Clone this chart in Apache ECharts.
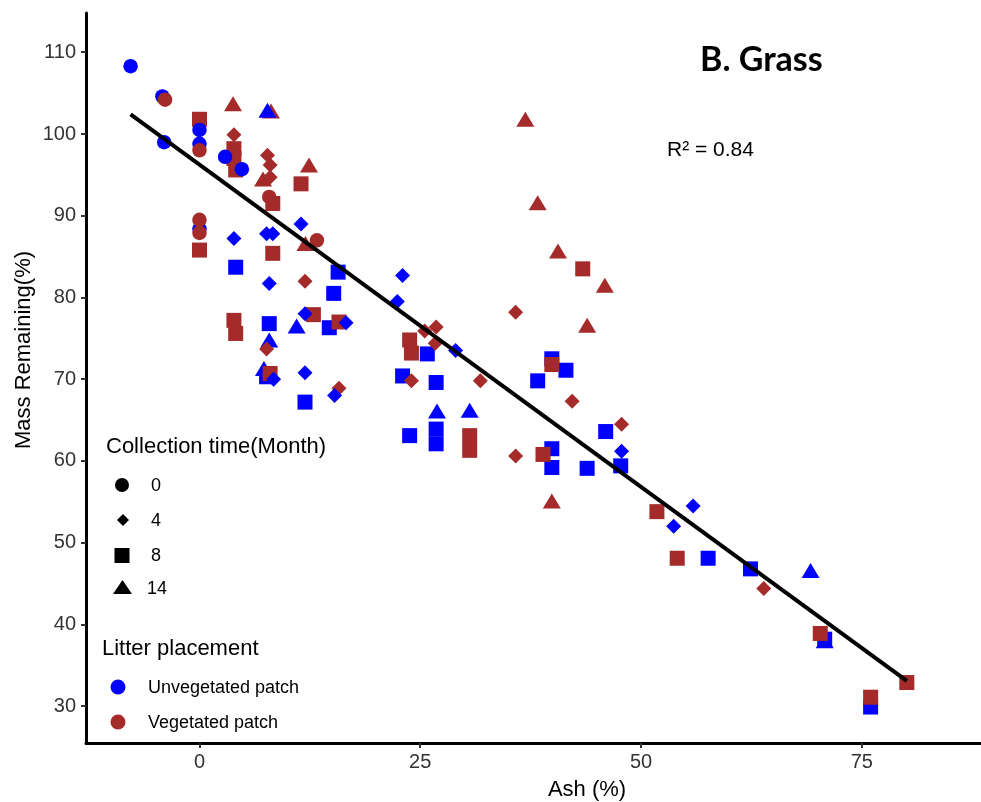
<!DOCTYPE html>
<html>
<head>
<meta charset="utf-8">
<script src="https://cdn.jsdelivr.net/npm/echarts@6/dist/echarts.min.js"></script>
<style>
  html, body { margin: 0; padding: 0; background: #ffffff; }
  #chart { width: 981px; height: 802px; }
</style>
</head>
<body>
<div id="chart"></div>
<script>
// ---- Data: [Ash (%), Mass Remaining (%)] ----
// Unvegetated patch (blue)
const unveg_m0 = [[-7.8,108.3],[-4.2,104.6],[-4.0,99.0],[0,100.5],[0,98.8],[2.9,97.2],[4.8,95.7],[0,88.4]];
const unveg_m4 = [[3.9,87.2],[7.6,87.8],[8.3,87.8],[11.5,89.0],[7.9,81.7],[11.95,78.0],[16.6,76.9],[8.4,70.0],[11.95,70.8],[15.3,68.0],[23.0,82.7],[22.4,79.5],[29.0,73.5],[47.8,61.2],[55.9,54.5],[53.7,52.0]];
const unveg_m8 = [[4.1,83.7],[15.7,83.1],[15.2,80.5],[7.9,76.8],[14.7,76.3],[7.6,70.3],[11.95,67.2],[25.8,73.1],[23.0,70.4],[26.8,69.6],[23.8,63.1],[26.8,63.9],[26.8,62.1],[39.9,61.5],[39.9,59.2],[43.9,59.1],[47.7,59.4],[46.0,63.6],[38.3,69.8],[41.5,71.1],[39.9,72.5],[57.6,48.1],[62.4,46.8],[70.8,38.2],[76.0,29.9]];
const unveg_m14 = [[7.7,102.9],[7.3,71.3],[7.9,74.8],[11.0,76.5],[26.9,66.1],[30.6,66.2],[69.2,46.6],[70.8,38.0]];
// Vegetated patch (brown)
const veg_m0 = [[-3.9,104.2],[0,98.0],[0,89.5],[0,87.9],[7.9,92.3],[13.3,87.0]];
const veg_m4 = [[3.9,99.9],[7.7,97.4],[8.0,96.2],[8.0,94.7],[11.95,82.0],[7.6,73.7],[15.8,68.9],[25.5,75.9],[26.8,76.4],[26.7,74.4],[24.0,69.8],[31.8,69.8],[35.8,60.6],[35.8,78.2],[42.2,67.3],[47.8,64.5],[63.9,44.4]];
const veg_m8 = [[0,101.8],[3.9,98.2],[3.9,97.0],[4.1,95.6],[8.3,91.5],[11.5,93.9],[0,85.8],[8.3,85.4],[3.9,77.2],[4.1,75.6],[12.9,77.9],[15.8,77.0],[8.0,70.7],[23.8,74.8],[24.0,73.2],[30.6,63.1],[30.6,61.3],[38.9,60.8],[39.9,71.8],[43.4,83.5],[51.8,53.8],[54.1,48.1],[70.3,38.9],[76.0,31.1],[80.1,32.9]];
const veg_m14 = [[3.8,103.7],[8.1,102.8],[7.2,94.5],[12.4,96.2],[12.0,86.6],[36.9,101.8],[38.3,91.6],[40.6,85.7],[45.9,81.5],[43.9,76.6],[39.9,55.1]];
// Linear fit endpoints
const fitLine = [[-7.8,102.4],[80.1,33.1]];
// Tick labels
const xTicks = [0, 25, 50, 75];
const yTicks = [30, 40, 50, 60, 70, 80, 90, 100, 110];

const BLUE = '#0000FF';
const BROWN = '#A52A2A';
const FONT = '"Liberation Sans", Arial, sans-serif';

const sym = {
  m0: { symbol: 'circle', size: 14.5 },
  m4: { symbol: 'diamond', size: [15, 15] },
  m8: { symbol: 'rect', size: 15 },
  m14: { symbol: 'triangle', size: [18, 15] }
};
function sc(name, data, s, color) {
  return {
    type: 'scatter', name: name, data: data,
    symbol: s.symbol, symbolSize: s.size,
    itemStyle: { color: color, opacity: 1 },
    emphasis: { disabled: true },
    silent: true
  };
}

const chart = echarts.init(document.getElementById('chart'), null, { renderer: 'canvas' });

const txt = (x, y, text, size, opts) => Object.assign({
  type: 'text', x: x, y: y,
  style: Object.assign({ text: text, font: size + 'px ' + FONT, fill: '#000', textAlign: 'left', textVerticalAlign: 'middle' }, (opts && opts.style) || {})
}, (opts && opts.el) || {});

const option = {
  backgroundColor: '#ffffff',
  animation: false,
  grid: { left: 86, top: 13, width: 895, height: 730, outerBoundsMode: 'none', containLabel: false },
  xAxis: {
    type: 'value', min: -12.85, max: 88.5,
    axisLine: { show: true, onZero: false, lineStyle: { color: '#000', width: 3 } },
    axisTick: { show: true, length: 5, customValues: xTicks, lineStyle: { color: '#333', width: 2 } },
    axisLabel: { show: true, customValues: xTicks, margin: 9, fontSize: 20, color: '#333', fontFamily: FONT },
    splitLine: { show: false }
  },
  yAxis: {
    type: 'value', min: 25.5, max: 114.8,
    axisLine: { show: true, onZero: false, lineStyle: { color: '#000', width: 3 } },
    axisTick: { show: true, length: 5, customValues: yTicks, lineStyle: { color: '#333', width: 2 } },
    axisLabel: { show: true, customValues: yTicks, margin: 10, fontSize: 20, color: '#333', fontFamily: FONT },
    splitLine: { show: false }
  },
  series: [
    sc('V14', veg_m14, sym.m14, BROWN),
    sc('U14', unveg_m14, sym.m14, BLUE),
    sc('U8', unveg_m8, sym.m8, BLUE),
    sc('V8', veg_m8, sym.m8, BROWN),
    sc('V4', veg_m4, sym.m4, BROWN),
    sc('U4', unveg_m4, sym.m4, BLUE),
    sc('U0', unveg_m0, sym.m0, BLUE),
    sc('V0', veg_m0, sym.m0, BROWN),
    {
      type: 'line', data: fitLine, symbol: 'none', silent: true,
      lineStyle: { color: '#000', width: 4 }, z: 5
    }
  ],
  graphic: [
    // axis titles
    txt(587, 790, 'Ash (%)', 22, { style: { textAlign: 'center' } }),
    txt(24, 350, 'Mass Remaining(%)', 22, { style: { textAlign: 'center' }, el: { rotation: Math.PI / 2 } }),
    // annotations
    { type: 'text', x: 700, y: 60, style: { text: 'B. Grass', font: 'bold 34px Lato, "Open Sans", sans-serif', fill: '#000', textAlign: 'left', textVerticalAlign: 'middle' } },
    txt(667, 150, 'R² = 0.84', 21),
    // legend: collection time
    txt(106, 447, 'Collection time(Month)', 22),
    { type: 'circle', shape: { cx: 122, cy: 485, r: 7 }, style: { fill: '#000' } },
    txt(151, 486, '0', 18),
    { type: 'polygon', shape: { points: [[123, 514], [129, 520], [123, 526], [117, 520]] }, style: { fill: '#000' } },
    txt(151, 521, '4', 18),
    { type: 'rect', shape: { x: 114.5, y: 548, width: 15, height: 15 }, style: { fill: '#000' } },
    txt(151, 556, '8', 18),
    { type: 'polygon', shape: { points: [[122.5, 580], [132, 594], [113, 594]] }, style: { fill: '#000' } },
    txt(147, 589, '14', 18),
    // legend: litter placement
    txt(102, 649, 'Litter placement', 22),
    { type: 'circle', shape: { cx: 118, cy: 687, r: 7.5 }, style: { fill: BLUE } },
    txt(148, 688, 'Unvegetated patch', 18),
    { type: 'circle', shape: { cx: 118, cy: 722, r: 7.5 }, style: { fill: BROWN } },
    txt(148, 723, 'Vegetated patch', 18)
  ]
};
chart.setOption(option);
</script>
</body>
</html>
